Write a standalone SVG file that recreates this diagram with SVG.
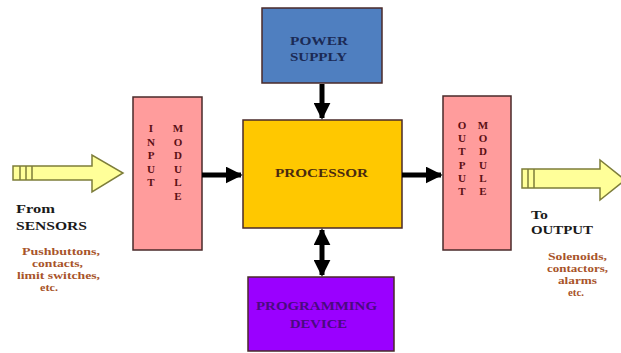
<svg xmlns="http://www.w3.org/2000/svg" width="621" height="353" viewBox="0 0 621 353">
<style>
.box{stroke:#4a2a2a;stroke-width:1.5}
.mod{fill:#ff9c9c}
.t{font-family:"Liberation Serif","Times New Roman",serif;font-weight:bold}
.let{font-size:11px;fill:#5a0f14;text-anchor:middle}
.ylw{fill:#ffff99;stroke:#7d7d3a;stroke-width:1.5}
.stripe{stroke:#7d7d3a;stroke-width:1.5}
.conn{stroke:#000;stroke-width:5;fill:none}
.sub{font-size:10.5px;fill:#a8542a}
.lbl{font-size:13px;fill:#1a1a1a}
.ttl{font-size:12px}
</style>
<defs>
<marker id="ah" viewBox="0 0 10 10" refX="9" refY="5" markerWidth="3.4" markerHeight="3.4" orient="auto-start-reverse" markerUnits="strokeWidth">
<path d="M0,0 L10,5 L0,10 z" fill="#000"/>
</marker>
</defs>
<rect width="621" height="353" fill="#fff"/>

<g id="sensor-arrow">
<path class="ylw" d="M13,166 H92 V155 L123,173 L92,192 V180 H13 Z"/>
<line class="stripe" x1="20" y1="166" x2="20" y2="180"/>
<line class="stripe" x1="26" y1="166" x2="26" y2="180"/>
<line class="stripe" x1="32" y1="166" x2="32" y2="180"/>
<text class="t lbl" x="16" y="213" textLength="39" lengthAdjust="spacingAndGlyphs">From</text>
<text class="t lbl" x="16" y="230" textLength="71" lengthAdjust="spacingAndGlyphs">SENSORS</text>
<text class="t sub" x="22" y="255" textLength="78" lengthAdjust="spacingAndGlyphs">Pushbuttons,</text>
<text class="t sub" x="32" y="267" textLength="51" lengthAdjust="spacingAndGlyphs">contacts,</text>
<text class="t sub" x="17" y="279" textLength="83" lengthAdjust="spacingAndGlyphs">limit switches,</text>
<text class="t sub" x="40" y="291" textLength="18" lengthAdjust="spacingAndGlyphs">etc.</text>
</g>

<g id="input-module">
<rect class="box mod" x="133" y="97" width="69" height="153"/>
<g class="t let">
<text x="151" y="132">I</text>
<text x="151" y="145.5">N</text>
<text x="151" y="159">P</text>
<text x="151" y="172.5">U</text>
<text x="151" y="186">T</text>
<text x="178" y="132">M</text>
<text x="178" y="145.5">O</text>
<text x="178" y="159">D</text>
<text x="178" y="172.5">U</text>
<text x="178" y="186">L</text>
<text x="178" y="199.5">E</text>
</g>
</g>

<g id="power-supply">
<rect class="box" x="262" y="8" width="120" height="75" fill="#4f7fc0"/>
<text class="t ttl" x="290" y="45" fill="#1b2a55" textLength="58" lengthAdjust="spacingAndGlyphs">POWER</text>
<text class="t ttl" x="290" y="61" fill="#1b2a55" textLength="57" lengthAdjust="spacingAndGlyphs">SUPPLY</text>
</g>

<g id="processor">
<rect class="box" x="243" y="120" width="159" height="108" fill="#ffc800"/>
<text class="t ttl" x="275" y="177" fill="#4a2a10" textLength="93" lengthAdjust="spacingAndGlyphs">PROCESSOR</text>
</g>

<g id="programming-device">
<rect class="box" x="248" y="277" width="146" height="74" fill="#9a00ff"/>
<text class="t ttl" x="256" y="310" fill="#4a0a80" textLength="121" lengthAdjust="spacingAndGlyphs">PROGRAMMING</text>
<text class="t ttl" x="290" y="328" fill="#4a0a80" textLength="57" lengthAdjust="spacingAndGlyphs">DEVICE</text>
</g>

<g id="output-module">
<rect class="box mod" x="443" y="96" width="68" height="154"/>
<g class="t let">
<text x="462" y="129">O</text>
<text x="462" y="142.2">U</text>
<text x="462" y="155.4">T</text>
<text x="462" y="168.6">P</text>
<text x="462" y="181.8">U</text>
<text x="462" y="195">T</text>
<text x="483" y="129">M</text>
<text x="483" y="142.2">O</text>
<text x="483" y="155.4">D</text>
<text x="483" y="168.6">U</text>
<text x="483" y="181.8">L</text>
<text x="483" y="195">E</text>
</g>
</g>

<g id="output-arrow">
<path class="ylw" d="M522,169 H600 V160 L625,180 L600,200 V188 H522 Z"/>
<line class="stripe" x1="528" y1="169" x2="528" y2="188"/>
<line class="stripe" x1="534" y1="169" x2="534" y2="188"/>
<text class="t lbl" x="531" y="219" textLength="17" lengthAdjust="spacingAndGlyphs">To</text>
<text class="t lbl" x="531" y="234" textLength="62" lengthAdjust="spacingAndGlyphs">OUTPUT</text>
<text class="t sub" x="548" y="260" textLength="59" lengthAdjust="spacingAndGlyphs">Solenoids,</text>
<text class="t sub" x="547" y="272" textLength="61" lengthAdjust="spacingAndGlyphs">contactors,</text>
<text class="t sub" x="558" y="284" textLength="39" lengthAdjust="spacingAndGlyphs">alarms</text>
<text class="t sub" x="568" y="296" textLength="16" lengthAdjust="spacingAndGlyphs">etc.</text>
</g>

<g id="connectors">
<line class="conn" x1="202" y1="175" x2="241" y2="175" marker-end="url(#ah)"/>
<line class="conn" x1="402" y1="175" x2="441" y2="175" marker-end="url(#ah)"/>
<line class="conn" x1="322" y1="84" x2="322" y2="118" marker-end="url(#ah)"/>
<line class="conn" x1="322" y1="230" x2="322" y2="275" marker-start="url(#ah)" marker-end="url(#ah)"/>
</g>
</svg>
